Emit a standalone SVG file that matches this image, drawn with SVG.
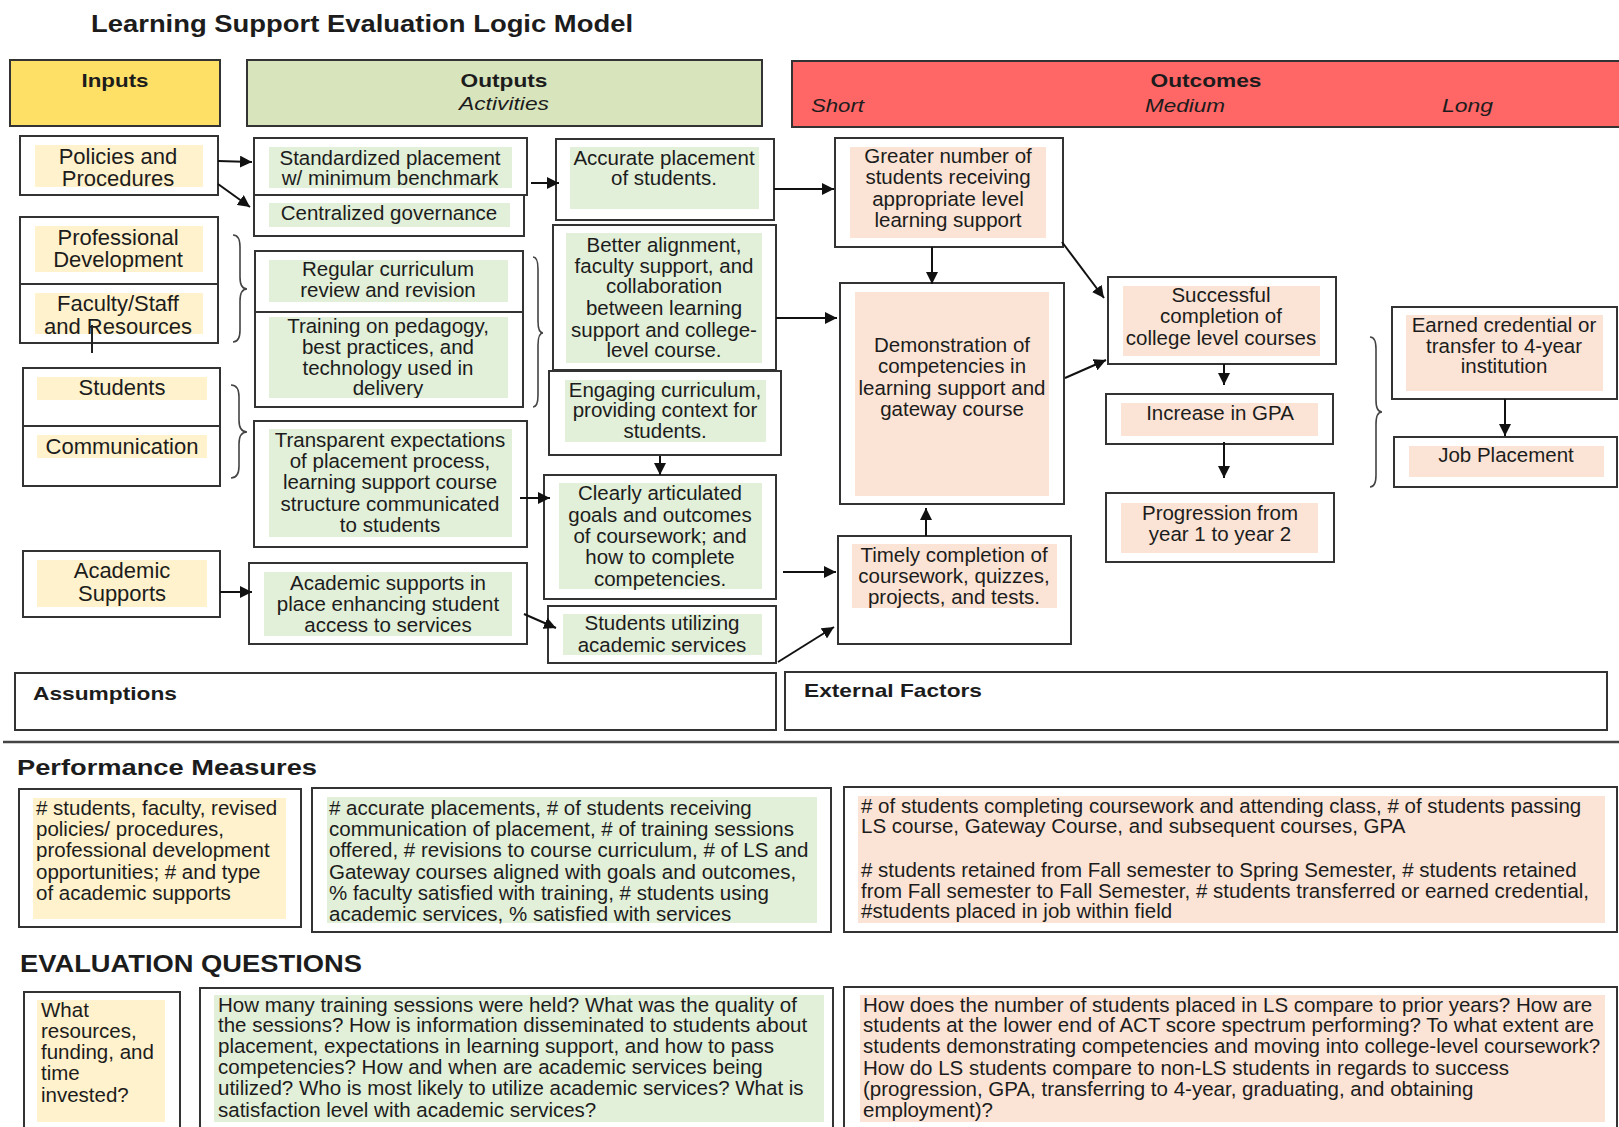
<svg xmlns="http://www.w3.org/2000/svg" width="1619" height="1127" viewBox="0 0 1619 1127">
<style>
text{font-family:"Liberation Sans",Arial,Helvetica,sans-serif;fill:#1c1c1c}
.n{font-size:20.5px;text-anchor:middle}
.ni{font-size:22px;text-anchor:middle}
.p{font-size:20.5px;text-anchor:start}
.b{font-weight:bold}
.hd{font-weight:bold;font-size:19px;text-anchor:middle}
.it{font-style:italic;font-size:19px}
.box{fill:#fff;stroke:#333;stroke-width:2}
.fy{fill:#FFF2CC}
.fg{fill:#E2EFD9}
.fp{fill:#FBE4D5}
.c{fill:none;stroke:#111;stroke-width:2;marker-end:url(#ah)}
.br{fill:none;stroke:#444;stroke-width:1.6}
</style>
<defs>
<marker id="ah" markerUnits="userSpaceOnUse" markerWidth="13" markerHeight="12" refX="12" refY="6" orient="auto">
<path d="M0,0 L12,6 L0,12 z" fill="#111"/>
</marker>
<clipPath id="cpTrain"><rect x="255" y="312" width="268" height="86"/></clipPath>
</defs>
<rect width="1619" height="1127" fill="#fff"/>

<text x="91" y="32" class="b" font-size="23.5" textLength="542" lengthAdjust="spacingAndGlyphs">Learning Support Evaluation Logic Model</text>

<g id="hdr-inputs">
<rect x="10" y="60" width="210" height="66" fill="#FFE066" stroke="#333" stroke-width="2"/>
<text x="115" y="87" class="hd" textLength="67" lengthAdjust="spacingAndGlyphs">Inputs</text>
</g>
<g id="hdr-outputs">
<rect x="247" y="60" width="515" height="66" fill="#D7E4BC" stroke="#333" stroke-width="2"/>
<text x="504" y="87" class="hd" textLength="87" lengthAdjust="spacingAndGlyphs">Outputs</text>
<text x="504" y="110" class="it" text-anchor="middle" textLength="90" lengthAdjust="spacingAndGlyphs">Activities</text>
</g>
<g id="hdr-outcomes">
<rect x="792" y="61" width="840" height="66" fill="#FF6666" stroke="#333" stroke-width="2"/>
<text x="1206" y="87" class="hd" textLength="111" lengthAdjust="spacingAndGlyphs">Outcomes</text>
<text x="811" y="112" class="it" textLength="53" lengthAdjust="spacingAndGlyphs">Short</text>
<text x="1145" y="112" class="it" textLength="80" lengthAdjust="spacingAndGlyphs">Medium</text>
<text x="1442" y="112" class="it" textLength="51" lengthAdjust="spacingAndGlyphs">Long</text>
</g>

<!-- Inputs -->
<g id="policies">
<rect class="box" x="20" y="136" width="198" height="59"/>
<rect class="fy" x="35" y="145" width="168" height="42"/>
<text class="ni" x="118" y="164">Policies and</text>
<text class="ni" x="118" y="186">Procedures</text>
</g>
<g id="profdev">
<rect class="box" x="20" y="217" width="198" height="67"/>
<rect class="fy" x="35" y="226" width="168" height="46"/>
<text class="ni" x="118" y="245">Professional</text>
<text class="ni" x="118" y="267">Development</text>
</g>
<g id="faculty">
<rect class="box" x="20" y="284" width="198" height="59"/>
<rect class="fy" x="35" y="293" width="168" height="41"/>
<text class="ni" x="118" y="311">Faculty/Staff</text>
<text class="ni" x="118" y="334">and Resources</text>
</g>
<g id="students">
<rect class="box" x="23" y="368" width="197" height="58"/>
<rect class="fy" x="37" y="377" width="170" height="23"/>
<text class="ni" x="122" y="395">Students</text>
</g>
<g id="communication">
<rect class="box" x="23" y="426" width="197" height="60"/>
<rect class="fy" x="37" y="435" width="170" height="23"/>
<text class="ni" x="122" y="454">Communication</text>
</g>
<g id="academic">
<rect class="box" x="23" y="551" width="197" height="66"/>
<rect class="fy" x="37" y="560" width="170" height="47"/>
<text class="ni" x="122" y="578">Academic</text>
<text class="ni" x="122" y="601">Supports</text>
</g>

<!-- Outputs col 1 -->
<g id="standardized">
<rect class="box" x="254" y="138" width="273" height="57"/>
<rect class="fg" x="269" y="147" width="243" height="41"/>
<text class="n" x="390" y="165">Standardized placement</text>
<text class="n" x="390" y="185">w/ minimum benchmark</text>
</g>
<g id="centralized">
<rect class="box" x="254" y="195" width="270" height="41"/>
<rect class="fg" x="269" y="203" width="241" height="24"/>
<text class="n" x="389" y="220">Centralized governance</text>
</g>
<g id="regular">
<rect class="box" x="255" y="251" width="268" height="61"/>
<rect class="fg" x="269" y="260" width="239" height="42"/>
<text class="n" x="388" y="276">Regular curriculum</text>
<text class="n" x="388" y="297">review and revision</text>
</g>
<g id="training">
<rect class="box" x="255" y="312" width="268" height="95"/>
<rect class="fg" x="269" y="317" width="239" height="81"/>
<g clip-path="url(#cpTrain)">
<text class="n" x="388" y="333">Training on pedagogy,</text>
<text class="n" x="388" y="354">best practices, and</text>
<text class="n" x="388" y="375">technology used in</text>
<text class="n" x="388" y="395">delivery</text>
</g>
</g>
<g id="transparent">
<rect class="box" x="254" y="421" width="273" height="126"/>
<rect class="fg" x="269" y="429" width="243" height="108"/>
<text class="n" x="390" y="447">Transparent expectations</text>
<text class="n" x="390" y="468">of placement process,</text>
<text class="n" x="390" y="489">learning support course</text>
<text class="n" x="390" y="511">structure communicated</text>
<text class="n" x="390" y="532">to students</text>
</g>
<g id="acadsupports">
<rect class="box" x="249" y="563" width="278" height="81"/>
<rect class="fg" x="264" y="572" width="248" height="64"/>
<text class="n" x="388" y="590">Academic supports in</text>
<text class="n" x="388" y="611">place enhancing student</text>
<text class="n" x="388" y="632">access to services</text>
</g>

<!-- Outputs col 2 -->
<g id="accurate">
<rect class="box" x="556" y="139" width="218" height="81"/>
<rect class="fg" x="570" y="147" width="189" height="62"/>
<text class="n" x="664" y="165">Accurate placement</text>
<text class="n" x="664" y="185">of students.</text>
</g>
<g id="better">
<rect class="box" x="553" y="225" width="223" height="145"/>
<rect class="fg" x="566" y="233" width="196" height="130"/>
<text class="n" x="664" y="252">Better alignment,</text>
<text class="n" x="664" y="273">faculty support, and</text>
<text class="n" x="664" y="293">collaboration</text>
<text class="n" x="664" y="315">between learning</text>
<text class="n" x="664" y="337">support and college-</text>
<text class="n" x="664" y="357">level course.</text>
</g>
<g id="engaging">
<rect class="box" x="549" y="371" width="232" height="84"/>
<rect class="fg" x="565" y="380" width="201" height="62"/>
<text class="n" x="665" y="397">Engaging curriculum,</text>
<text class="n" x="665" y="417">providing context for</text>
<text class="n" x="665" y="438">students.</text>
</g>
<g id="clearly">
<rect class="box" x="544" y="475" width="232" height="124"/>
<rect class="fg" x="559" y="483" width="203" height="106"/>
<text class="n" x="660" y="500">Clearly articulated</text>
<text class="n" x="660" y="522">goals and outcomes</text>
<text class="n" x="660" y="543">of coursework; and</text>
<text class="n" x="660" y="564">how to complete</text>
<text class="n" x="660" y="586">competencies.</text>
</g>
<g id="utilizing">
<rect class="box" x="548" y="606" width="228" height="57"/>
<rect class="fg" x="563" y="614" width="199" height="41"/>
<text class="n" x="662" y="630">Students utilizing</text>
<text class="n" x="662" y="652">academic services</text>
</g>

<!-- Outcomes -->
<g id="greater">
<rect class="box" x="835" y="138" width="228" height="109"/>
<rect class="fp" x="850" y="147" width="196" height="91"/>
<text class="n" x="948" y="163">Greater number of</text>
<text class="n" x="948" y="184">students receiving</text>
<text class="n" x="948" y="206">appropriate level</text>
<text class="n" x="948" y="227">learning support</text>
</g>
<g id="demonstration">
<rect class="box" x="840" y="283" width="224" height="221"/>
<rect class="fp" x="855" y="292" width="194" height="204"/>
<text class="n" x="952" y="352">Demonstration of</text>
<text class="n" x="952" y="373">competencies in</text>
<text class="n" x="952" y="395">learning support and</text>
<text class="n" x="952" y="416">gateway course</text>
</g>
<g id="timely">
<rect class="box" x="838" y="536" width="233" height="108"/>
<rect class="fp" x="852" y="544" width="205" height="64"/>
<text class="n" x="954" y="562">Timely completion of</text>
<text class="n" x="954" y="583">coursework, quizzes,</text>
<text class="n" x="954" y="604">projects, and tests.</text>
</g>
<g id="successful">
<rect class="box" x="1108" y="277" width="228" height="87"/>
<rect class="fp" x="1123" y="286" width="197" height="70"/>
<text class="n" x="1221" y="302">Successful</text>
<text class="n" x="1221" y="323">completion of</text>
<text class="n" x="1221" y="345">college level courses</text>
</g>
<g id="gpa">
<rect class="box" x="1106" y="394" width="227" height="50"/>
<rect class="fp" x="1121" y="403" width="197" height="33"/>
<text class="n" x="1220" y="420">Increase in GPA</text>
</g>
<g id="progression">
<rect class="box" x="1106" y="493" width="228" height="69"/>
<rect class="fp" x="1121" y="503" width="197" height="50"/>
<text class="n" x="1220" y="520">Progression from</text>
<text class="n" x="1220" y="541">year 1 to year 2</text>
</g>
<g id="earned">
<rect class="box" x="1392" y="307" width="225" height="92"/>
<rect class="fp" x="1406" y="315" width="197" height="76"/>
<text class="n" x="1504" y="332">Earned credential or</text>
<text class="n" x="1504" y="353">transfer to 4-year</text>
<text class="n" x="1504" y="373">institution</text>
</g>
<g id="job">
<rect class="box" x="1394" y="437" width="223" height="50"/>
<rect class="fp" x="1409" y="446" width="195" height="31"/>
<text class="n" x="1506" y="462">Job Placement</text>
</g>

<!-- Braces -->
<g id="braces">
<path class="br" d="M233,235 Q240,235 240,247 L240,277 Q240,289 247,289 Q240,289 240,301 L240,330 Q240,342 233,342"/>
<path class="br" d="M231,385 Q239,385 239,397 L239,420 Q239,432 247,432 Q239,432 239,444 L239,466 Q239,478 231,478"/>
<path class="br" d="M533,257 Q538,257 538,269 L538,321 Q538,333 543,333 Q538,333 538,345 L538,395 Q538,407 533,407"/>
<path class="br" d="M1370,337 Q1376,337 1376,349 L1376,400 Q1376,412 1382,412 Q1376,412 1376,424 L1376,475 Q1376,487 1370,487"/>
</g>

<line x1="92" y1="325" x2="92" y2="353" stroke="#222" stroke-width="2"/>

<!-- Connectors -->
<g id="connectors">
<path class="c" d="M218,161 L252,162"/>
<path class="c" d="M218,184 L250,207"/>
<path class="c" d="M531,183 L559,183"/>
<path class="c" d="M774,189 L834,189"/>
<path class="c" d="M776,318 L837,318"/>
<path class="c" d="M520,498 L550,498"/>
<path class="c" d="M660,456 L660,475"/>
<path class="c" d="M783,572 L836,572"/>
<path class="c" d="M220,592 L252,592"/>
<path class="c" d="M524,614 L556,628"/>
<path class="c" d="M778,662 L834,627"/>
<path class="c" d="M932,247 L932,284"/>
<path class="c" d="M1062,242 L1104,298"/>
<path class="c" d="M1065,378 L1106,360"/>
<path class="c" d="M926,536 L926,508"/>
<path class="c" d="M1224,364 L1224,385"/>
<path class="c" d="M1224,442 L1224,478"/>
<path class="c" d="M1505,399 L1505,436"/>
</g>

<g id="assumptions">
<rect class="box" x="15" y="673" width="761" height="57"/>
<text x="33" y="700" class="b" font-size="19" textLength="144" lengthAdjust="spacingAndGlyphs">Assumptions</text>
</g>
<g id="external">
<rect class="box" x="785" y="672" width="822" height="58"/>
<text x="804" y="697" class="b" font-size="19" textLength="178" lengthAdjust="spacingAndGlyphs">External Factors</text>
</g>

<line x1="3" y1="742" x2="1619" y2="742" stroke="#444" stroke-width="2.5"/>

<text x="17" y="775" class="b" font-size="22" textLength="300" lengthAdjust="spacingAndGlyphs">Performance Measures</text>

<g id="pm-inputs">
<rect class="box" x="19" y="789" width="282" height="138"/>
<rect class="fy" x="33" y="798" width="253" height="121"/>
<text class="p" x="36" y="815">
<tspan x="36" y="815"># students, faculty, revised</tspan>
<tspan x="36" y="836">policies/ procedures,</tspan>
<tspan x="36" y="857">professional development</tspan>
<tspan x="36" y="879">opportunities; # and type</tspan>
<tspan x="36" y="900">of academic supports</tspan>
</text>
</g>
<g id="pm-outputs">
<rect class="box" x="312" y="788" width="519" height="144"/>
<rect class="fg" x="327" y="797" width="490" height="126"/>
<text class="p">
<tspan x="329" y="815"># accurate placements, # of students receiving</tspan>
<tspan x="329" y="836">communication of placement, # of training sessions</tspan>
<tspan x="329" y="857">offered, # revisions to course curriculum, # of LS and</tspan>
<tspan x="329" y="879">Gateway courses aligned with goals and outcomes,</tspan>
<tspan x="329" y="900">% faculty satisfied with training, # students using</tspan>
<tspan x="329" y="921">academic services, % satisfied with services</tspan>
</text>
</g>
<g id="pm-outcomes">
<rect class="box" x="844" y="787" width="773" height="145"/>
<rect class="fp" x="858" y="796" width="747" height="127"/>
<text class="p">
<tspan x="861" y="813"># of students completing coursework and attending class, # of students passing</tspan>
<tspan x="861" y="833">LS course, Gateway Course, and subsequent courses, GPA</tspan>
<tspan x="861" y="877"># students retained from Fall semester to Spring Semester, # students retained</tspan>
<tspan x="861" y="898">from Fall semester to Fall Semester, # students transferred or earned credential,</tspan>
<tspan x="861" y="918">#students placed in job within field</tspan>
</text>
</g>

<text x="20" y="972" class="b" font-size="23" textLength="342" lengthAdjust="spacingAndGlyphs">EVALUATION QUESTIONS</text>

<g id="eq-inputs">
<rect class="box" x="24" y="992" width="156" height="150"/>
<rect class="fy" x="37" y="1000" width="128" height="122"/>
<text class="p">
<tspan x="41" y="1017">What</tspan>
<tspan x="41" y="1038">resources,</tspan>
<tspan x="41" y="1059">funding, and</tspan>
<tspan x="41" y="1080">time</tspan>
<tspan x="41" y="1102">invested?</tspan>
</text>
</g>
<g id="eq-outputs">
<rect class="box" x="200" y="988" width="633" height="150"/>
<rect class="fg" x="214" y="995" width="610" height="127"/>
<text class="p">
<tspan x="218" y="1012">How many training sessions were held? What was the quality of</tspan>
<tspan x="218" y="1032">the sessions? How is information disseminated to students about</tspan>
<tspan x="218" y="1053">placement, expectations in learning support, and how to pass</tspan>
<tspan x="218" y="1074">competencies? How and when are academic services being</tspan>
<tspan x="218" y="1095">utilized? Who is most likely to utilize academic services? What is</tspan>
<tspan x="218" y="1117">satisfaction level with academic services?</tspan>
</text>
</g>
<g id="eq-outcomes">
<rect class="box" x="844" y="987" width="773" height="150"/>
<rect class="fp" x="860" y="995" width="745" height="127"/>
<text class="p">
<tspan x="863" y="1012">How does the number of students placed in LS compare to prior years? How are</tspan>
<tspan x="863" y="1032">students at the lower end of ACT score spectrum performing? To what extent are</tspan>
<tspan x="863" y="1053">students demonstrating competencies and moving into college-level coursework?</tspan>
<tspan x="863" y="1075">How do LS students compare to non-LS students in regards to success</tspan>
<tspan x="863" y="1096">(progression, GPA, transferring to 4-year, graduating, and obtaining</tspan>
<tspan x="863" y="1117">employment)?</tspan>
</text>
</g>
</svg>
